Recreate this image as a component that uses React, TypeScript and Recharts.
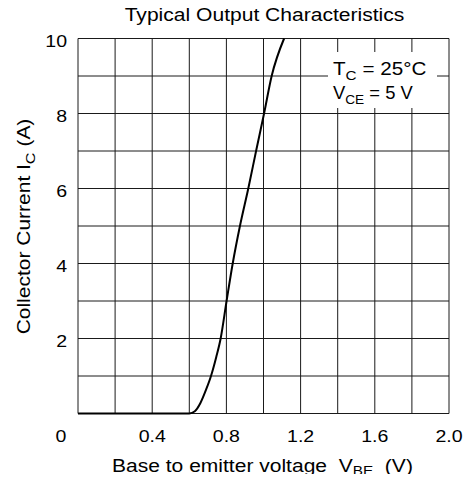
import React from 'react';
import { LineChart, Line, XAxis, YAxis, CartesianGrid } from 'recharts';

// Base-emitter voltage (V) and collector current (A)
const vbe = [0, 0.6, 0.63, 0.66, 0.69, 0.717, 0.745, 0.769, 0.801, 0.834, 0.873, 0.918, 0.96, 1.003, 1.044, 1.111];
const ic = [0, 0, 0.06, 0.28, 0.63, 1, 1.5, 2, 3, 4, 5, 6, 7, 8, 9, 10];

const xTicks = [0, 0.2, 0.4, 0.6, 0.8, 1.0, 1.2, 1.4, 1.6, 1.8, 2.0];
const xLabels = [0, 0.4, 0.8, 1.2, 1.6, 2.0];
const yTicks = [0, 1, 2, 3, 4, 5, 6, 7, 8, 9, 10];
const yLabels = [2, 4, 6, 8, 10];

const data = vbe.map((v, k) => ({ v, i: ic[k] }));

const FONT = '"Liberation Sans", Arial, Helvetica, sans-serif';
const SX = 1.15;

// plot box in page coordinates (the wrapper is pulled to page 0,0)
const LEFT = 78;
const TOP = 38.5;
const RIGHT = 449;
const BOTTOM = 413.5;

const renderXTick = (props: any) => {
  const { x, y, payload } = props;
  const val = payload.value as number;
  if (!xLabels.some((l) => Math.abs(l - val) < 1e-6)) return <g key={`xt${val}`} />;
  const dx = val === 0 ? -17 : 0;
  const label = val === 0 ? '0' : val.toFixed(1);
  return (
    <text
      key={`xt${val}`}
      transform={`translate(${x + dx},${y + 28.5}) scale(${SX},1)`}
      textAnchor="middle"
      fontSize={17}
      fontFamily={FONT}
      fill="#000"
    >
      {label}
    </text>
  );
};

const renderYTick = (props: any) => {
  const { x, y, payload } = props;
  const val = payload.value as number;
  if (!yLabels.includes(val)) return <g key={`yt${val}`} />;
  return (
    <text
      key={`yt${val}`}
      transform={`translate(${x - 11},${y + 8.2}) scale(${SX},1)`}
      textAnchor="end"
      fontSize={17}
      fontFamily={FONT}
      fill="#000"
    >
      {String(val)}
    </text>
  );
};

export default function App() {
  return (
    <div style={{ position: 'relative', width: 475, height: 482, margin: -8 }}>
      <LineChart
        width={475}
        height={482}
        data={data}
        margin={{ top: TOP, right: 475 - RIGHT, bottom: 482 - BOTTOM - 30, left: LEFT - 40 }}
      >
        <CartesianGrid stroke="#1a1a1a" strokeWidth={1} />
        <XAxis
          dataKey="v"
          type="number"
          domain={[0, 2]}
          ticks={xTicks}
          interval={0}
          height={30}
          tickSize={0}
          tickMargin={0}
          axisLine={false}
          tickLine={false}
          tick={renderXTick}
        />
        <YAxis
          type="number"
          domain={[0, 10]}
          ticks={yTicks}
          interval={0}
          width={40}
          tickSize={0}
          tickMargin={0}
          axisLine={false}
          tickLine={false}
          tick={renderYTick}
        />
        <Line
          dataKey="i"
          type="monotone"
          stroke="#000"
          strokeWidth={2}
          dot={false}
          isAnimationActive={false}
        />
      </LineChart>
      <svg
        width={475}
        height={482}
        style={{ position: 'absolute', left: 0, top: 0, pointerEvents: 'none' }}
        fontFamily={FONT}
      >
        <text transform="translate(264.5,21) scale(1.139,1)" textAnchor="middle" fontSize={18.5} fill="#000">
          Typical Output Characteristics
        </text>
        <text transform="translate(112,471.5) scale(1.137,1)" fontSize={18.5} fill="#000">
          <tspan>{'Base to emitter voltage\u00a0\u00a0V'}</tspan>
          <tspan fontSize={13.5} dy={3}>BE</tspan>
          <tspan dy={-3}>{'\u00a0\u00a0(V)'}</tspan>
        </text>
        <text
          transform="translate(30,226.5) rotate(-90) scale(1.2,1)"
          textAnchor="middle"
          fontSize={17.5}
          fill="#000"
        >
          <tspan>Collector Current I</tspan>
          <tspan fontSize={13.5} dy={4.5}>C</tspan>
          <tspan dy={-4.5}>{'\u00a0(A)'}</tspan>
        </text>
        <rect x={328} y={52} width={109} height={56} fill="#fff" />
        <text transform="translate(333,74.5) scale(1.18,1)" fontSize={17.5} fill="#000">
          <tspan>T</tspan>
          <tspan fontSize={13} dy={5}>C</tspan>
          <tspan dy={-5}>{'\u00a0=\u00a025°C'}</tspan>
        </text>
        <text transform="translate(333,98.5) scale(1.05,1)" fontSize={17.5} fill="#000">
          <tspan>V</tspan>
          <tspan fontSize={13} dy={5}>CE</tspan>
          <tspan dy={-5}>{'\u00a0=\u00a05\u00a0V'}</tspan>
        </text>
      </svg>
    </div>
  );
}
